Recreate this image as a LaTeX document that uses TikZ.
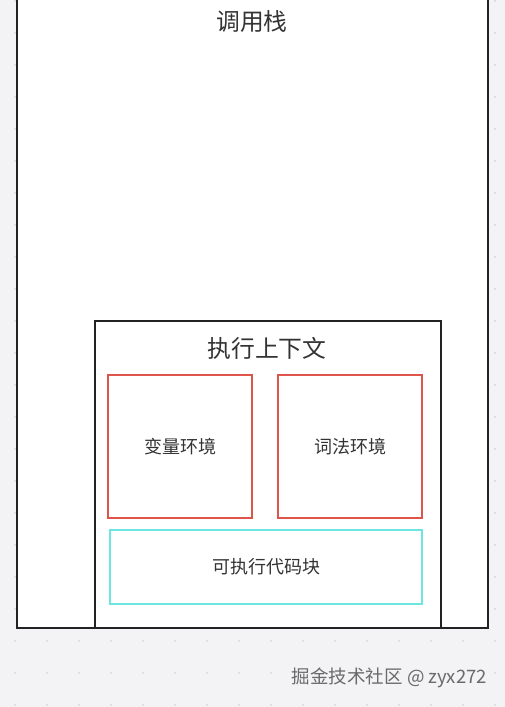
\documentclass[tikz,border=0pt]{standalone}
\usepackage{fontspec}
\setmainfont{Noto Sans CJK SC}
\definecolor{bgc}{HTML}{F3F3F5}
\definecolor{dotc}{HTML}{CACACF}
\definecolor{linec}{HTML}{222222}
\definecolor{redc}{HTML}{E0554B}
\definecolor{cyanc}{HTML}{6BE6E0}
\definecolor{txtc}{HTML}{333333}
\definecolor{wmc}{HTML}{6A6A6A}
\tikzset{
  box/.style={draw=linec, line width=2.2pt, fill=white, inner sep=0pt, anchor=center},
  envbox/.style={draw=redc, line width=2.2pt, fill=white, inner sep=0pt, font=\fontsize{18}{20}\selectfont, text=txtc},
  codebox/.style={draw=cyanc, line width=2.2pt, fill=white, inner sep=0pt, font=\fontsize{18}{20}\selectfont, text=txtc},
  title/.style={font=\fontsize{23.8}{26}\selectfont, text=txtc, inner sep=0pt},
}
\begin{document}
\begin{tikzpicture}[x=1pt,y=-1pt]
\useasboundingbox (0,0) rectangle (505,707);
\clip (0,0) rectangle (505,707);
\fill[bgc] (0,0) rectangle (505,707);
\foreach \xx in {15,47,...,500} {
  \foreach \yy in {1,33,...,706} {
    \fill[dotc] (\xx,\yy) circle (0.9pt);
  }
}
\node[box, minimum width=471pt, minimum height=640pt] (stack) at (252.5,308) {};
\node[title] (stacktitle) at (252,22) {调用栈};
\node[box, minimum width=346pt, minimum height=307pt] (ctx) at (268,474.5) {};
\node[title] (ctxtitle) at (267,348) {执行上下文};
\node[envbox, minimum width=144pt, minimum height=143pt] (varenv) at (180,446.5) {变量环境};
\node[envbox, minimum width=144pt, minimum height=143pt] (lexenv) at (350,446.5) {词法环境};
\node[codebox, minimum width=312pt, minimum height=74pt] (code) at (266,567) {可执行代码块};
\node[anchor=east, inner sep=0pt, text=wmc, font=\fontsize{18.5}{20}\selectfont] (wm) at (487,678) {掘金技术社区 @ zyx272};
\end{tikzpicture}
\end{document}
